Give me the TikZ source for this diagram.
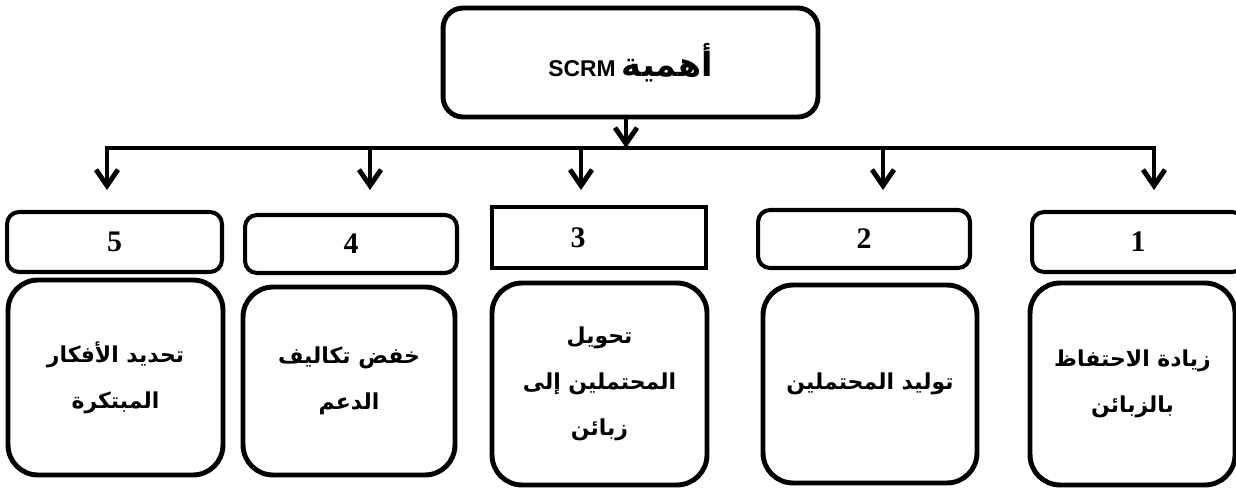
\documentclass[tikz,border=0pt]{standalone}
\usepackage{fontspec}
\setmainfont{Liberation Serif}
\newfontfamily\arabicfont[Script=Arabic]{DejaVu Sans}
\newfontfamily\latinsans{Liberation Sans}
\TeXXeTstate=1
\usetikzlibrary{arrows.meta}
% one right-to-left line of Arabic text
\newcommand\arline[1]{\beginR#1\endR}

\begin{document}
\begin{tikzpicture}[x=0.02cm, y=-0.02cm,
  mainbox/.style={draw, line width=2.8pt, rounded corners=0.4cm, inner sep=0pt,
    font=\latinsans\bfseries\fontsize{13}{15}\selectfont},
  itembox/.style={draw, line width=2.8pt, rounded corners=0.6cm, align=center, inner sep=0pt,
    font=\arabicfont\bfseries\fontsize{12.5}{26}\selectfont},
  numbox/.style={draw, line width=2.3pt, rounded corners=0.24cm, inner sep=0pt,
    font=\bfseries\fontsize{17}{19}\selectfont},
  conn/.style={line width=2.8pt, line join=miter, -{Straight Barb[length=3.2mm,width=4.4mm]}},
]
\useasboundingbox (0,0) rectangle (1236,489);

% heading box
\node[mainbox, minimum width=7.5cm, minimum height=2.18cm] (top) at (630.5,62.5)
  {\beginR{\arabicfont\fontsize{19}{21}\selectfont أهمية} \beginL SCRM\endL\endR};

% numbered headers
\node[numbox, minimum width=4.30cm, minimum height=1.20cm] (n5) at (114.5,242) {5};
\node[numbox, minimum width=4.24cm, minimum height=1.16cm] (n4) at (351,244) {4};
\node[numbox, rounded corners=0pt, minimum width=4.28cm, minimum height=1.22cm] (n3) at (599,237.5) {3\hspace*{0.84cm}};
\node[numbox, minimum width=4.24cm, minimum height=1.16cm] (n2) at (864,239) {2};
\node[numbox, minimum width=4.24cm, minimum height=1.20cm] (n1) at (1138,242) {1};

% item boxes
\node[itembox, minimum width=4.30cm, minimum height=3.90cm] (c5) at (115.5,377.5)
  {\arline{تحديد الأفكار}\\\arline{المبتكرة}};
\node[itembox, minimum width=4.24cm, minimum height=3.76cm] (c4) at (349,381)
  {\arline{خفض تكاليف}\\\arline{الدعم}};
\node[itembox, minimum width=4.30cm, minimum height=4.04cm] (c3) at (599.5,384)
  {\arline{تحويل}\\\arline{المحتملين إلى}\\\arline{زبائن}};
\node[itembox, minimum width=4.28cm, minimum height=3.96cm] (c2) at (870,384)
  {\arline{توليد المحتملين}};
\node[itembox, minimum width=4.10cm, minimum height=4.04cm] (c1) at (1132.5,384)
  {\arline{زيادة الاحتفاظ}\\\arline{بالزبائن}};

% distribution bar and its drops
\coordinate (b5) at (107,148);
\coordinate (b4) at (370,148);
\coordinate (b3) at (581,148);
\coordinate (b2) at (883,148);
\coordinate (b1) at (1154,148);
\coordinate (t5) at (107,190);
\coordinate (t4) at (370,190);
\coordinate (t3) at (581,190);
\coordinate (t2) at (883,190);
\coordinate (t1) at (1154,190);
\coordinate (tb) at (626,148);

\draw[conn] (top.south -| tb) -- (tb);
\draw[conn, {Straight Barb[length=3.2mm,width=4.4mm]}-{Straight Barb[length=3.2mm,width=4.4mm]}]
  (t5) -- (b5) -- (b1) -- (t1);
\draw[conn] (b4) -- (t4);
\draw[conn] (b3) -- (t3);
\draw[conn] (b2) -- (t2);
\end{tikzpicture}
\end{document}
